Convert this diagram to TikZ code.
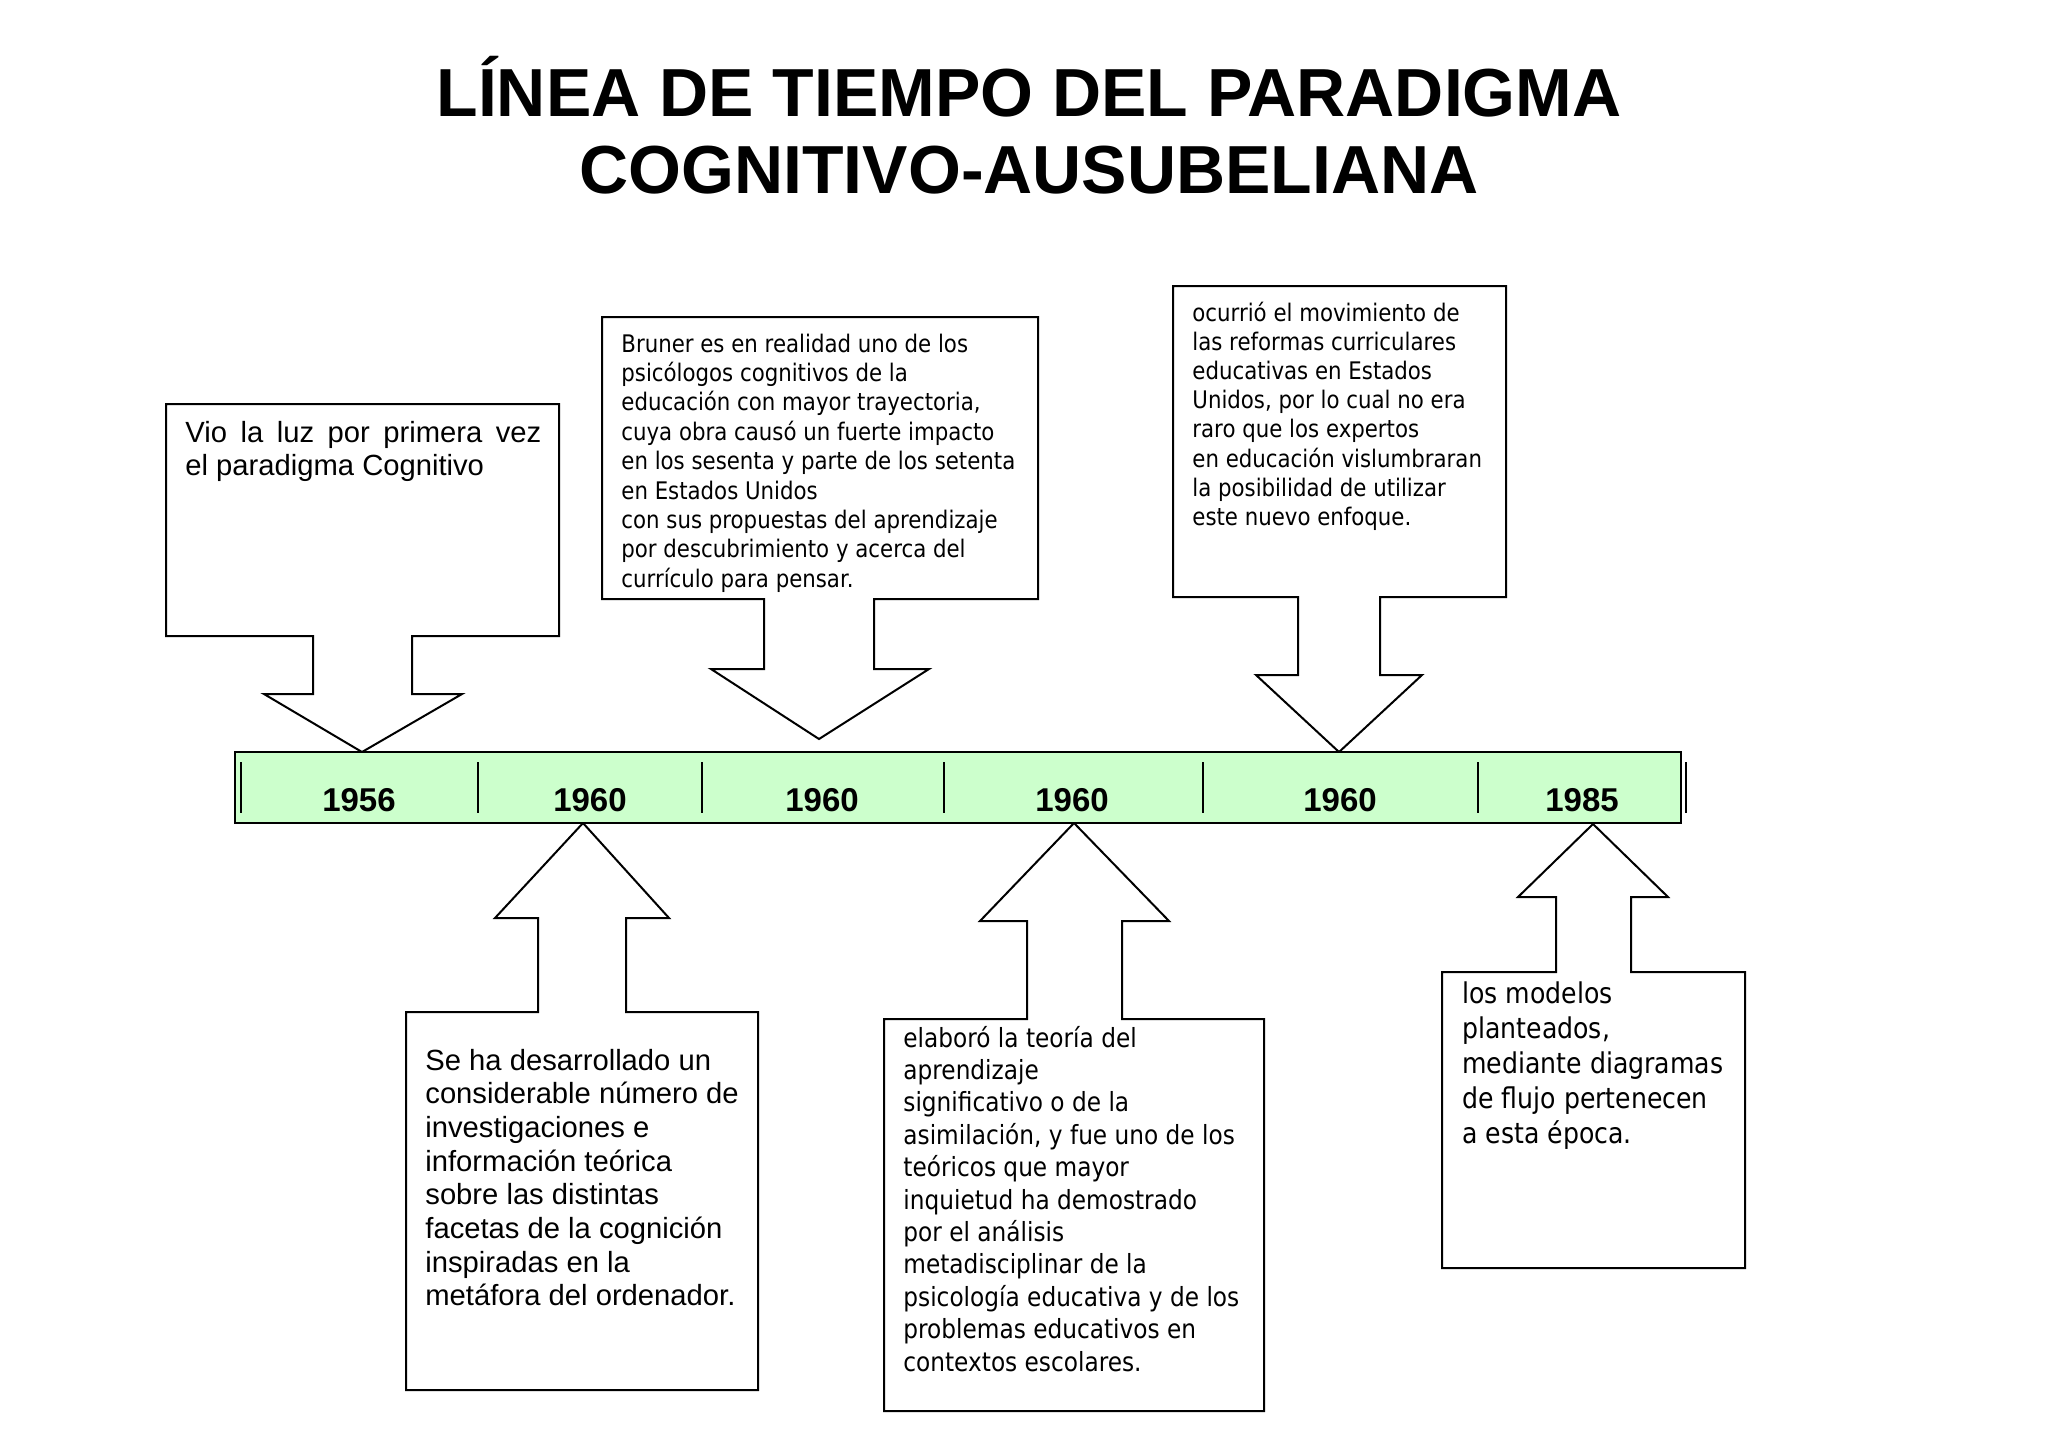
\documentclass[tikz,border=0pt]{standalone}
\usepackage{fontspec}
\setmainfont{Liberation Sans}
\newfontfamily\arialfont{Liberation Sans}
\newfontfamily\tahomafont[FakeStretch=0.88]{DejaVu Sans}
\definecolor{barraverde}{RGB}{204,255,204}
\newcommand{\renglones}[1]{\begin{tabular}[t]{@{}l@{}}#1\end{tabular}}

\begin{document}
\begin{tikzpicture}[x=0.5pt, y=-0.5pt,
    globo/.style={draw=black, fill=white, line width=1pt, line join=miter},
    texto/.style={anchor=base west, inner sep=0pt},
    anio/.style={anchor=base, inner sep=0pt, font=\arialfont\bfseries\fontsize{16.5}{19}\selectfont}]
  \useasboundingbox (0,0) rectangle (2048,1448);

  % titulo
  \node[anchor=base, inner sep=0pt, font=\arialfont\bfseries\fontsize{34}{38.5}\selectfont] (titulo) at (1029,116)
    {\begin{tabular}[t]{@{}c@{}}LÍNEA DE TIEMPO DEL PARADIGMA\\COGNITIVO-AUSUBELIANA\end{tabular}};

  % globos de arriba
  \draw[globo] (166,404) -- (559,404) -- (559,636) -- (412,636) -- (412,694) -- (462,694) -- (362,752)
    -- (264,694) -- (313,694) -- (313,636) -- (166,636) -- cycle;
  \draw[globo] (602,317) -- (1038,317) -- (1038,599) -- (874,599) -- (874,669) -- (929,669) -- (819,739)
    -- (711,669) -- (764,669) -- (764,599) -- (602,599) -- cycle;
  \draw[globo] (1173,286) -- (1506,286) -- (1506,597) -- (1380,597) -- (1380,675) -- (1422,675) -- (1339,752)
    -- (1256,675) -- (1298,675) -- (1298,597) -- (1173,597) -- cycle;

  % globos de abajo
  \draw[globo] (406,1012) -- (538,1012) -- (538,918) -- (495,918) -- (583,823) -- (669,918) -- (626,918)
    -- (626,1012) -- (758,1012) -- (758,1390) -- (406,1390) -- cycle;
  \draw[globo] (884,1019) -- (1027,1019) -- (1027,921) -- (980,921) -- (1074,823) -- (1169,921) -- (1122,921)
    -- (1122,1019) -- (1264,1019) -- (1264,1411) -- (884,1411) -- cycle;
  \draw[globo] (1442,972) -- (1556,972) -- (1556,897) -- (1518,897) -- (1593,824) -- (1668,897) -- (1631,897)
    -- (1631,972) -- (1745,972) -- (1745,1268) -- (1442,1268) -- cycle;

  % barra
  \draw[fill=barraverde, line width=1.2pt] (235,752) rectangle (1681,823);
  \foreach \x in {241,478,702,944,1203,1478,1686}
    \draw[line width=0.75pt] (\x,762) -- (\x,813);

  % anios
  \node[anio] (a1956) at (359,811) {1956};
  \node[anio] (a1960a) at (590,811) {1960};
  \node[anio] (a1960b) at (822,811) {1960};
  \node[anio] (a1960c) at (1072,811) {1960};
  \node[anio] (a1960d) at (1340,811) {1960};
  \node[anio] (a1985) at (1582,811) {1985};

  % textos
  \node[texto, font=\arialfont\fontsize{14.6}{16.9}\selectfont] (vio) at (185,442)
    {\renglones{\makebox[178pt][s]{Vio la luz por primera vez}\\el paradigma Cognitivo}};
  \node[texto, font=\tahomafont\fontsize{12.1}{14.7}\selectfont] (bruner) at (621,352)
    {\renglones{Bruner es en realidad uno de los\\psicólogos cognitivos de la\\educación con mayor trayectoria,\\cuya obra causó un fuerte impacto\\en los sesenta y parte de los setenta\\en Estados Unidos\\con sus propuestas del aprendizaje\\por descubrimiento y acerca del\\currículo para pensar.}};
  \node[texto, font=\tahomafont\fontsize{12.1}{14.6}\selectfont] (reformas) at (1192,321)
    {\renglones{ocurrió el movimiento de\\las reformas curriculares\\educativas en Estados\\Unidos, por lo cual no era\\raro que los expertos\\en educación vislumbraran\\la posibilidad de utilizar\\este nuevo enfoque.}};
  \node[texto, font=\arialfont\fontsize{14.6}{16.85}\selectfont] (investig) at (425,1070)
    {\renglones{Se ha desarrollado un\\considerable número de\\investigaciones e\\información teórica\\sobre las distintas\\facetas de la cognición\\inspiradas en la\\metáfora del ordenador.}};
  \node[texto, font=\tahomafont\fontsize{13.2}{16.2}\selectfont] (ausubel) at (903,1047)
    {\renglones{elaboró la teoría del\\aprendizaje\\significativo o de la\\asimilación, y fue uno de los\\teóricos que mayor\\inquietud ha demostrado\\por el análisis\\metadisciplinar de la\\psicología educativa y de los\\problemas educativos en\\contextos escolares.}};
  \node[texto, font=\tahomafont\fontsize{14.3}{17.5}\selectfont] (modelos) at (1462,1003)
    {\renglones{los modelos\\planteados,\\mediante diagramas\\de flujo pertenecen\\a esta época.}};
\end{tikzpicture}
\end{document}
